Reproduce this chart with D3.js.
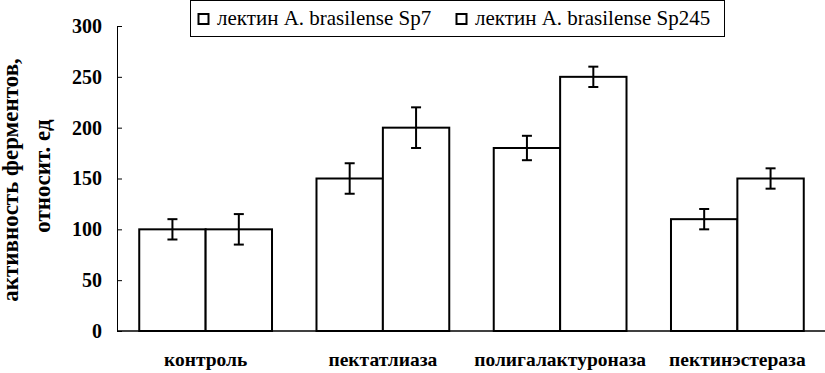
<!DOCTYPE html>
<html>
<head>
<meta charset="utf-8">
<script src="https://cdn.jsdelivr.net/npm/d3@7"></script>
<style>
  body { margin: 0; background: #fff; }
</style>
</head>
<body>
<div class="chart"></div>
<script>
// data
const categories = ["контроль", "пектатлиаза", "полигалактуроназа", "пектинэстераза"];
const seriesNames = ["лектин A. brasilense Sp7", "лектин A. brasilense Sp245"];
const sp7 = [100, 150, 180, 110];
const sp7Err = [10, 15, 12, 10];
const sp245 = [100, 200, 250, 150];
const sp245Err = [15, 20, 10, 10];
const yTicks = [0, 50, 100, 150, 200, 250, 300];

const W = 825, H = 373;
const margin = { left: 117, right: -1, top: 26, bottom: 42 };
const serif = '"Liberation Serif"';

const svg = d3.select(".chart")
  .append("svg")
  .attr("width", W)
  .attr("height", H);

// scales
const x0 = d3.scaleBand()
  .domain(categories)
  .range([margin.left, W - margin.right])
  .paddingInner(0)
  .paddingOuter(0);

const x1 = d3.scaleBand()
  .domain([0, 1])
  .range([0, x0.bandwidth()])
  .paddingInner(0)
  .paddingOuter(0.335);

const y = d3.scaleLinear()
  .domain([0, 300])
  .range([H - margin.bottom, margin.top]);

// y axis (ticks pointing inwards)
const yAxis = d3.axisRight(y).tickValues(yTicks).tickSize(5).tickFormat(d3.format("d"));
const gy = svg.append("g")
  .attr("transform", `translate(${margin.left},0)`)
  .call(yAxis)
  .attr("font-family", null)
  .attr("font-size", null);
gy.select(".domain").attr("stroke", "#000").attr("stroke-width", 1);
gy.selectAll(".tick line").attr("stroke", "#000").attr("stroke-width", 1);
gy.selectAll(".tick text")
  .attr("x", -15)
  .attr("text-anchor", "end")
  .attr("fill", "#000")
  .style("font-family", serif)
  .style("font-size", "20px")
  .style("font-weight", "bold");

// x axis line
svg.append("line")
  .attr("x1", margin.left)
  .attr("x2", W)
  .attr("y1", y(0))
  .attr("y2", y(0))
  .attr("stroke", "#000")
  .attr("stroke-width", 1.5);

// bars
const rows = [];
categories.forEach((c, i) => {
  rows.push({ cat: c, s: 0, v: sp7[i], e: sp7Err[i] });
  rows.push({ cat: c, s: 1, v: sp245[i], e: sp245Err[i] });
});

svg.selectAll("rect.bar")
  .data(rows)
  .enter()
  .append("rect")
    .attr("class", "bar")
    .attr("x", d => x0(d.cat) + x1(d.s))
    .attr("y", d => y(d.v))
    .attr("width", x1.bandwidth())
    .attr("height", d => y(0) - y(d.v))
    .attr("fill", "#fff")
    .attr("stroke", "#000")
    .attr("stroke-width", 2);

// error bars
const err = svg.selectAll("g.err")
  .data(rows)
  .enter()
  .append("g")
    .attr("class", "err")
    .attr("stroke", "#000")
    .attr("stroke-width", 2);

const cx = d => x0(d.cat) + x1(d.s) + x1.bandwidth() / 2;
err.append("line")
  .attr("x1", cx).attr("x2", cx)
  .attr("y1", d => y(d.v + d.e)).attr("y2", d => y(d.v - d.e));
err.append("line")
  .attr("x1", d => cx(d) - 5).attr("x2", d => cx(d) + 5)
  .attr("y1", d => y(d.v + d.e)).attr("y2", d => y(d.v + d.e));
err.append("line")
  .attr("x1", d => cx(d) - 5).attr("x2", d => cx(d) + 5)
  .attr("y1", d => y(d.v - d.e)).attr("y2", d => y(d.v - d.e));

// category labels
svg.selectAll("text.cat")
  .data(categories)
  .enter()
  .append("text")
    .attr("class", "cat")
    .attr("x", d => x0(d) + x0.bandwidth() / 2)
    .attr("y", 366)
    .attr("text-anchor", "middle")
    .style("font-family", serif)
    .style("font-size", "19.5px")
    .style("font-weight", "bold")
    .text(d => d);

// y title
const yt = svg.append("text")
  .attr("transform", "translate(0,180) rotate(-90)")
  .attr("text-anchor", "middle")
  .style("font-family", serif)
  .style("font-size", "23px")
  .style("font-weight", "bold");
yt.append("tspan").attr("x", 0).attr("y", 18).text("активность ферментов,");
yt.append("tspan").attr("x", 4).attr("y", 50).text("относит. ед");

// legend
const legend = svg.append("g");
legend.append("rect")
  .attr("x", 190.5).attr("y", 0.5)
  .attr("width", 534).attr("height", 36)
  .attr("fill", "#fff")
  .attr("stroke", "#000")
  .attr("stroke-width", 1);

const legX = [197, 455];
const item = legend.selectAll("g.item")
  .data(seriesNames)
  .enter()
  .append("g")
    .attr("class", "item")
    .attr("transform", (d, i) => `translate(${legX[i]},0)`);
item.append("rect")
  .attr("x", 1.5).attr("y", 14)
  .attr("width", 10).attr("height", 10)
  .attr("fill", "#fff")
  .attr("stroke", "#000")
  .attr("stroke-width", 2);
item.append("text")
  .attr("x", 20)
  .attr("y", 25)
  .style("font-family", serif)
  .style("font-size", "21px")
  .text(d => d);
</script>
</body>
</html>
